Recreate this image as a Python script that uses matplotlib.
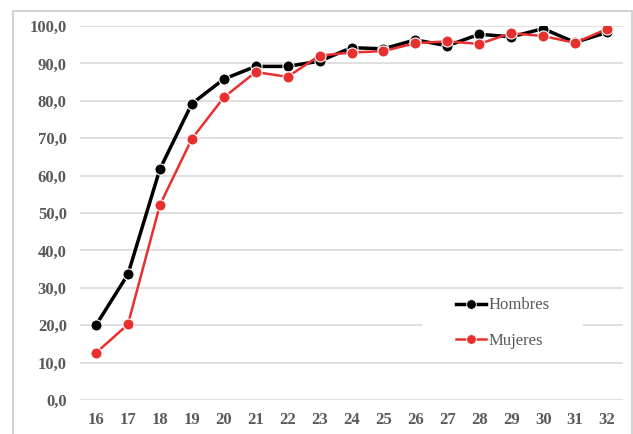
import numpy as np
import matplotlib
matplotlib.use("Agg")
import matplotlib.pyplot as plt
from matplotlib.patches import Rectangle
from matplotlib.lines import Line2D

edades = [16, 17, 18, 19, 20, 21, 22, 23, 24, 25, 26, 27, 28, 29, 30, 31, 32]
hombres = [20.0, 33.6, 61.7, 79.2, 85.8, 89.2, 89.2, 90.6, 94.2, 93.9, 96.3, 94.7, 97.8, 97.1, 99.3, 95.6, 98.3]
mujeres = [12.6, 20.2, 52.1, 69.8, 80.9, 87.7, 86.4, 92.1, 92.9, 93.3, 95.4, 95.9, 95.2, 98.1, 97.3, 95.5, 99.2]
yticks = np.arange(0, 101, 10)

GRIS = "#595959"
ROJO = "#e8302f"
plt.rcParams['font.family'] = ['Liberation Serif', 'DejaVu Serif']

fig = plt.figure(figsize=(6.33, 4.34), dpi=100)
W, H = 633, 434
ax = fig.add_axes([80 / W, (H - 400) / H, (623 - 80) / W, (400 - 26) / H])

# marco exterior del grafico
fig.patches.append(Rectangle((13 / W, -0.01), (632 - 13) / W, (H - 11) / H + 0.01,
                             transform=fig.transFigure, fill=False,
                             edgecolor="#d4d4d4", linewidth=1.5))

for v in yticks:
    ax.axhline(v, color="#d9d9d9", linewidth=1.2, zorder=1)

ax.plot(edades, hombres, color="black", linewidth=2.5, zorder=3,
        marker="o", markersize=8, markerfacecolor="black",
        markeredgecolor="white", markeredgewidth=0.8)
ax.plot(edades, mujeres, color=ROJO, linewidth=1.8, zorder=5,
        marker="o", markersize=8, markerfacecolor=ROJO,
        markeredgecolor="white", markeredgewidth=0.8)

ax.set_xlim(15.5, 32.5)
ax.set_ylim(0, 100)
ax.set_xticks(edades)
ax.set_xticklabels([str(e) for e in edades])
ax.set_yticks(yticks)
ax.set_yticklabels([f"{v:.1f}".replace(".", ",") for v in yticks])
for s in ax.spines.values():
    s.set_visible(False)
ax.tick_params(length=0, labelsize=12, labelcolor=GRIS)
ax.tick_params(axis="y", pad=9.5)
ax.tick_params(axis="x", pad=9)
for lab in ax.get_xticklabels() + ax.get_yticklabels():
    lab.set_fontweight("bold")

# fondo blanco de la leyenda
fig.patches.append(Rectangle((422 / W, (H - 360) / H), (583 - 422) / W, (360 - 289) / H,
                             transform=fig.transFigure, facecolor="white",
                             edgecolor="none", zorder=2))

handles = [Line2D([], [], color="black", linewidth=2.5, marker="o", markersize=7,
                  markerfacecolor="black", markeredgecolor="white", markeredgewidth=0.6),
           Line2D([], [], color=ROJO, linewidth=1.8, marker="o", markersize=7,
                  markerfacecolor=ROJO, markeredgecolor="white", markeredgewidth=0.6)]
leg = fig.legend(handles, ["Hombres", "Mujeres"], loc="center left",
                 bbox_to_anchor=(441 / W, (H - 323) / H), frameon=False,
                 fontsize=12, handlelength=1.8, handletextpad=0.15,
                 labelspacing=1.15, labelcolor=GRIS)

fig.savefig("out.png", dpi=100)
